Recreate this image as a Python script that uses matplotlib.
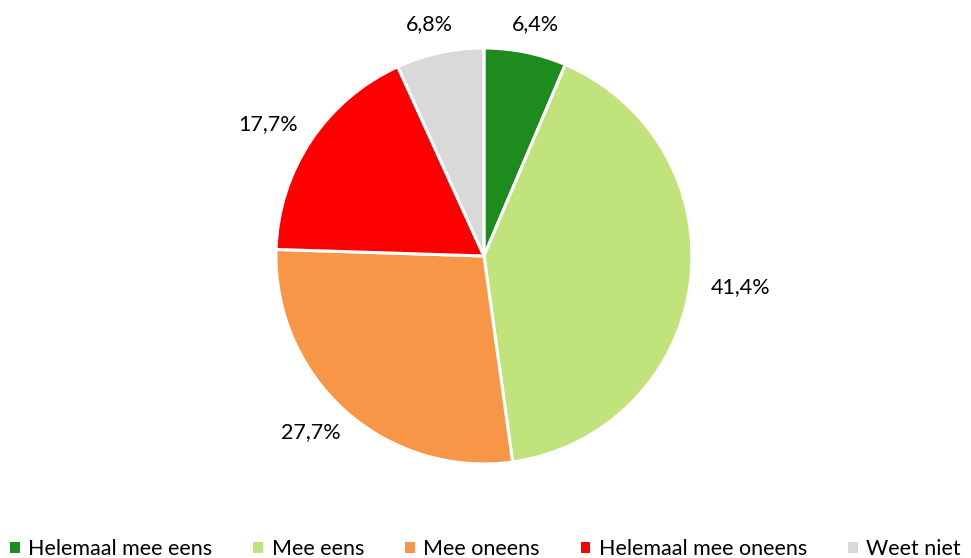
import numpy as np
import matplotlib.pyplot as plt

categories = ["Helemaal mee eens", "Mee eens", "Mee oneens", "Helemaal mee oneens", "Weet niet"]
values = [6.4, 41.4, 27.7, 17.7, 6.8]
labels = ["6,4%", "41,4%", "27,7%", "17,7%", "6,8%"]
colors = ["#1e8b1e", "#c0e37c", "#f79646", "#ff0000", "#d9d9d9"]

plt.rcParams["font.family"] = ["Lato", "DejaVu Sans"]

fig = plt.figure(figsize=(9.71, 5.58), dpi=100)
ax = fig.add_axes([0.2842, 0.1685, 0.4284, 0.7455])

wedges, _ = ax.pie(
    values,
    colors=colors,
    startangle=90,
    counterclock=False,
    radius=1.0,
    wedgeprops={"edgecolor": "white", "linewidth": 2.2},
)
ax.set_xlim(-1, 1)
ax.set_ylim(-1, 1)
ax.set_aspect("equal")
ax.axis("off")

# labels just outside each wedge, pushed out by half the text box
for w, lab in zip(wedges, labels):
    ang = np.deg2rad((w.theta1 + w.theta2) / 2)
    c, s = np.cos(ang), np.sin(ang)
    ax.annotate(
        lab,
        xy=(1.08 * c, 1.08 * s),
        xytext=(c * 25, s * 9),
        textcoords="offset points",
        ha="center",
        va="center",
        fontsize=15.5,
        color="#000000",
        annotation_clip=False,
    )

leg = fig.legend(
    wedges,
    categories,
    loc="center",
    bbox_to_anchor=(0.5, 0.016),
    ncol=5,
    frameon=False,
    fontsize=15.5,
    handlelength=0.45,
    handleheight=0.45,
    handletextpad=0.4,
    columnspacing=1.9,
)
for h in leg.legend_handles:
    h.set_edgecolor("none")

fig.savefig("out.png", dpi=100)
